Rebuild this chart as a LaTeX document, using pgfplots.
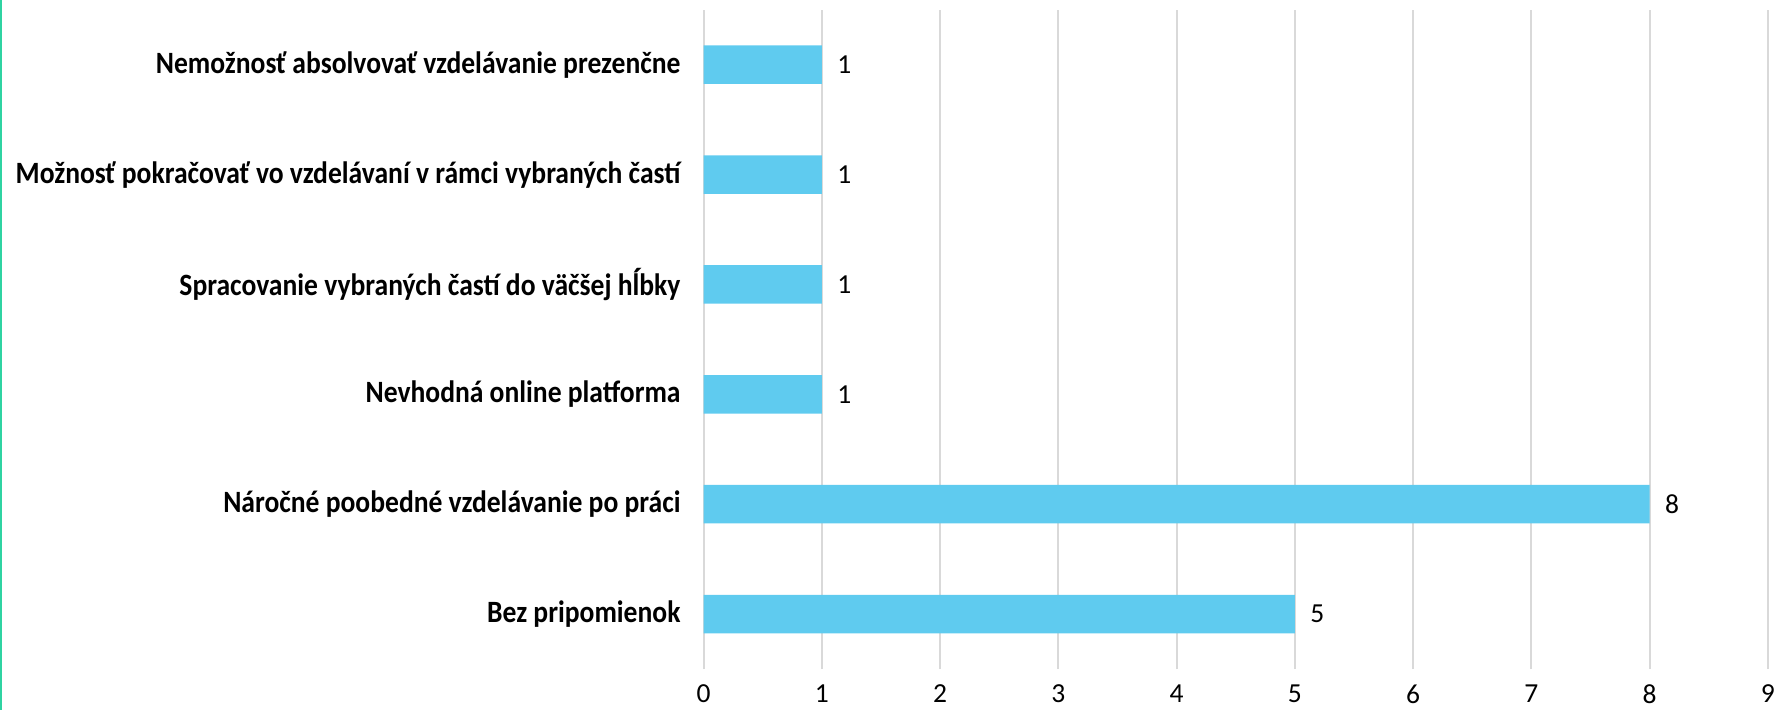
\documentclass[border=0pt]{standalone}
\usepackage{fontspec}
\setmainfont{Carlito}
\newfontfamily\labfont[FakeStretch=0.89]{Carlito Bold}
\usepackage{pgfplots}
\pgfplotsset{compat=1.18}
\definecolor{barc}{HTML}{5FCBEF}
\definecolor{gridc}{HTML}{D9D9D9}
\definecolor{edgec}{HTML}{2FD3A2}
\begin{document}
\begin{tikzpicture}
\useasboundingbox (0,0) rectangle (711.6pt,284pt);
\fill[edgec] (0,0) rectangle (0.9pt,284pt);
\begin{axis}[
  at={(281.4pt,16.4pt)}, anchor=south west,
  scale only axis, width=425.7pt, height=263.7pt,
  xbar, bar width=15.4pt,
  xmin=0, xmax=9, ymin=-0.5, ymax=5.5,
  xtick={0,...,9},
  ytick={0,...,5},
  yticklabels={Bez pripomienok,Náročné poobedné vzdelávanie po práci,Nevhodná online platforma\ ,Spracovanie vybraných častí do väčšej hĺbky,Možnosť pokračovať vo vzdelávaní v rámci vybraných častí,Nemožnosť absolvovať vzdelávanie prezenčne},
  axis line style={draw=none},
  major tick length=0pt,
  xmajorgrids, major grid style={gridc, line width=0.8pt},
  /pgf/number format/assume math mode=true,
  xticklabel style={font=\fontsize{11}{13}\selectfont, inner sep=0pt, anchor=north, yshift=-6pt},
  yticklabel style={font=\labfont\fontsize{12.4}{14}\selectfont, inner sep=0pt, anchor=east, xshift=-9pt},
  nodes near coords,
  nodes near coords align={horizontal},
  every node near coord/.append style={font=\fontsize{11}{13}\selectfont, inner sep=0pt, anchor=west, xshift=6pt, black},
]
\addplot[fill=barc, draw=none] coordinates {(5,0) (8,1) (1,2) (1,3) (1,4) (1,5)};
\end{axis}
\end{tikzpicture}
\end{document}
